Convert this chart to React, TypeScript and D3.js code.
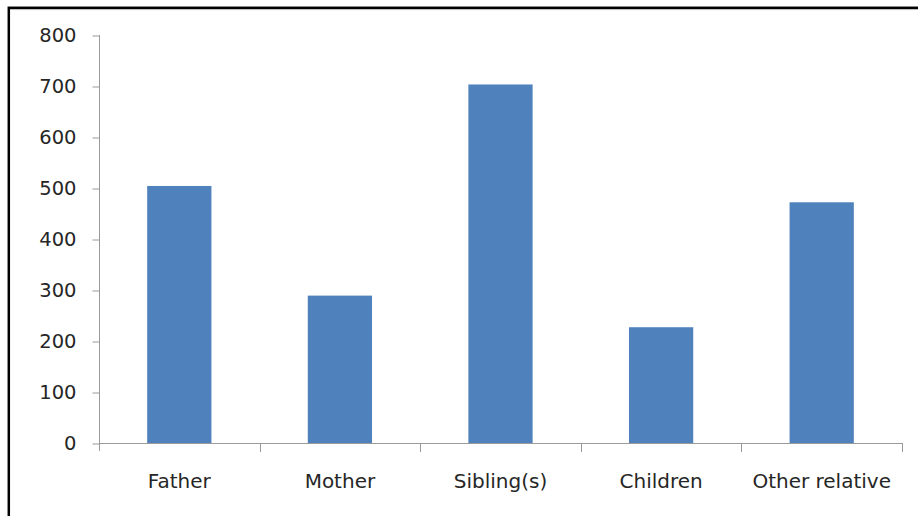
import React, { useEffect, useRef } from 'react';
import * as d3 from 'd3';

const categories = ['Father', 'Mother', 'Sibling(s)', 'Children', 'Other relative'];
const counts = [504, 289, 703, 227, 472];
const yTicks = [0, 100, 200, 300, 400, 500, 600, 700, 800];

const W = 918, H = 516;

export default function App() {
    const ref = useRef<SVGSVGElement>(null);

    useEffect(() => {
        const svg = d3.select(ref.current);
        svg.selectAll('*').remove();

        // plot area, in page pixels
        const left = 99, right = 902, top = 35, bottom = 443;

        const x = d3.scaleBand<string>()
            .domain(categories)
            .range([left, right])
            .paddingInner(0.6)
            .paddingOuter(0.3);

        const y = d3.scaleLinear().domain([0, 800]).range([bottom, top]);

        // outer frame
        svg.append('rect')
            .attr('x', 8.8).attr('y', 7.8)
            .attr('width', W).attr('height', H)
            .attr('fill', 'none')
            .attr('stroke', '#000')
            .attr('stroke-width', 2.5);
        svg.append('line')
            .attr('x1', 10).attr('x2', W).attr('y1', 9.6).attr('y2', 9.6)
            .attr('stroke', '#aaa').attr('stroke-width', 0.8);

        const font = '"DejaVu Sans", sans-serif';

        // y axis
        const yAxis = d3.axisLeft(y).tickValues(yTicks).tickSize(7).tickPadding(16);
        const gy = svg.append('g').attr('transform', `translate(${left + 0.5},0)`).call(yAxis);
        gy.select('.domain').remove();
        gy.append('line')
            .attr('x1', 0).attr('x2', 0)
            .attr('y1', top).attr('y2', bottom + 8)
            .attr('stroke', '#9a9a9a');
        gy.selectAll('.tick line').attr('stroke', '#9a9a9a').attr('transform', 'translate(0,0.5)');
        gy.selectAll('.tick text')
            .attr('fill', '#262626')
            .style('font-family', font)
            .style('font-size', '19.5px');

        // x axis: baseline with ticks at category boundaries
        const gx = svg.append('g');
        gx.append('line')
            .attr('x1', left).attr('x2', right)
            .attr('y1', bottom + 0.5).attr('y2', bottom + 0.5)
            .attr('stroke', '#9a9a9a');
        const step = x.step();
        const bounds = d3.range(categories.length + 1).map(i => left + i * step);
        gx.selectAll('line.tk')
            .data(bounds.slice(1))
            .enter()
                .append('line')
                .attr('class', 'tk')
                .attr('x1', d => Math.round(d) + 0.5).attr('x2', d => Math.round(d) + 0.5)
                .attr('y1', bottom).attr('y2', bottom + 9)
                .attr('stroke', '#9a9a9a');
        gx.selectAll('text')
            .data(categories)
            .enter()
                .append('text')
                .attr('x', d => (x(d) as number) + x.bandwidth() / 2)
                .attr('y', 488)
                .attr('text-anchor', 'middle')
                .attr('fill', '#262626')
                .style('font-family', font)
                .style('font-size', '20px')
                .text(d => d);

        // bars
        svg.append('g')
            .selectAll('rect')
            .data(categories)
            .enter()
                .append('rect')
                .attr('fill', '#4f81bd')
                .attr('x', d => x(d) as number)
                .attr('width', x.bandwidth())
                .attr('y', (d, i) => y(counts[i]))
                .attr('height', (d, i) => bottom - y(counts[i]));
    }, []);

    return (
        <svg ref={ref} width={W} height={H}
            style={{ position: 'absolute', left: 0, top: 0, background: '#fff' }} />
    );
}
